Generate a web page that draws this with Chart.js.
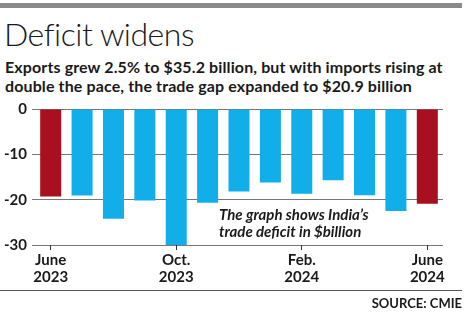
<!DOCTYPE html>
<html>
<head>
<meta charset="utf-8">
<script src="https://cdn.jsdelivr.net/npm/chart.js@4.4.1/dist/chart.umd.min.js"></script>
<style>
  html, body { margin: 0; padding: 0; background: #fff; }
  #wrap { position: relative; width: 474px; height: 323px; overflow: hidden; font-family: Lato, "Noto Sans", sans-serif; color: #1a1a1a; }
  #wrap canvas { position: absolute; left: 0; top: 0; }
  .topbar { position: absolute; left: 0; top: 3px; width: 462px; height: 5px; background: #8a8a8a; }
  .title { position: absolute; left: 4px; top: 14px; font-size: 32px; font-weight: 300; letter-spacing: -0.5px; white-space: nowrap; }
  .sub { position: absolute; left: 5px; top: 57px; font-size: 16px; font-weight: 700; line-height: 19px; letter-spacing: 0.12px; white-space: nowrap; }
  .note { position: absolute; left: 219px; top: 206px; font-size: 15px; font-style: italic; font-weight: 700; line-height: 17px; white-space: nowrap; }
  .rule { position: absolute; left: 0; top: 290px; width: 462px; height: 1px; background: #555; }
  .source { position: absolute; right: 12px; top: 295px; font-size: 13px; font-weight: 700; white-space: nowrap; }
</style>
</head>
<body>
<div id="wrap">
  <div class="topbar"></div>
  <div class="title">Deficit widens</div>
  <div class="sub">Exports grew 2.5% to $35.2 billion, but with imports rising at<br>double the pace, the trade gap expanded to $20.9 billion</div>
  <canvas id="myChart" width="474" height="323"></canvas>
  <div class="note">The graph shows India’s<br>trade deficit in $billion</div>
  <div class="rule"></div>
  <div class="source">SOURCE: CMIE</div>
</div>
<script>
// monthly trade balance, $ billion
const months = ["June 2023", "July 2023", "Aug. 2023", "Sep. 2023", "Oct. 2023", "Nov. 2023", "Dec. 2023",
                "Jan. 2024", "Feb. 2024", "Mar. 2024", "Apr. 2024", "May 2024", "June 2024"];
const deficit = [-19.3, -19.1, -24.2, -20.2, -30.0, -20.7, -18.2, -16.2, -18.7, -15.7, -19.0, -22.5, -20.9];
const yTicks = [0, -10, -20, -30];
const shownMonths = [0, 4, 8, 12];

const blue = "#12aee9";
const red = "#a8101f";
const barColors = deficit.map((v, i) => (i === 0 || i === deficit.length - 1) ? red : blue);

const ctx = document.getElementById("myChart").getContext("2d");
new Chart(ctx, {
  type: "bar",
  data: {
    labels: months,
    datasets: [{
      label: "Trade deficit",
      data: deficit,
      backgroundColor: barColors,
      borderWidth: 0,
      barPercentage: 0.67,
      categoryPercentage: 1
    }]
  },
  options: {
    responsive: false,
    animation: false,
    layout: { padding: { left: 0, top: 109, right: 31, bottom: 33 } },
    plugins: { legend: { display: false }, tooltip: { enabled: false } },
    scales: {
      y: {
        min: -30,
        max: 0,
        afterBuildTicks: (axis) => { axis.ticks = yTicks.map(v => ({ value: v })); },
        afterFit: (axis) => { axis.width = 35; },
        border: { display: false },
        grid: { color: "#777", lineWidth: 1, drawTicks: true, tickLength: 3 },
        ticks: {
          padding: 5,
          color: "#1a1a1a",
          font: { family: "Lato", size: 15, weight: "bold" }
        }
      },
      x: {
        afterFit: (axis) => { axis.height = 45; },
        border: { display: false },
        grid: {
          offset: false,
          drawOnChartArea: false,
          drawTicks: true,
          tickLength: 5,
          color: (c) => shownMonths.includes(c.index) ? "#333" : "rgba(0,0,0,0)"
        },
        ticks: {
          autoSkip: false,
          maxRotation: 0,
          padding: 2,
          color: "#1a1a1a",
          font: { family: "Lato", size: 15, weight: "bold", lineHeight: 1.1 },
          callback: function (val, i) {
            if (!shownMonths.includes(i)) return "";
            return months[i].split(" ");
          }
        }
      }
    }
  }
});
</script>
</body>
</html>
